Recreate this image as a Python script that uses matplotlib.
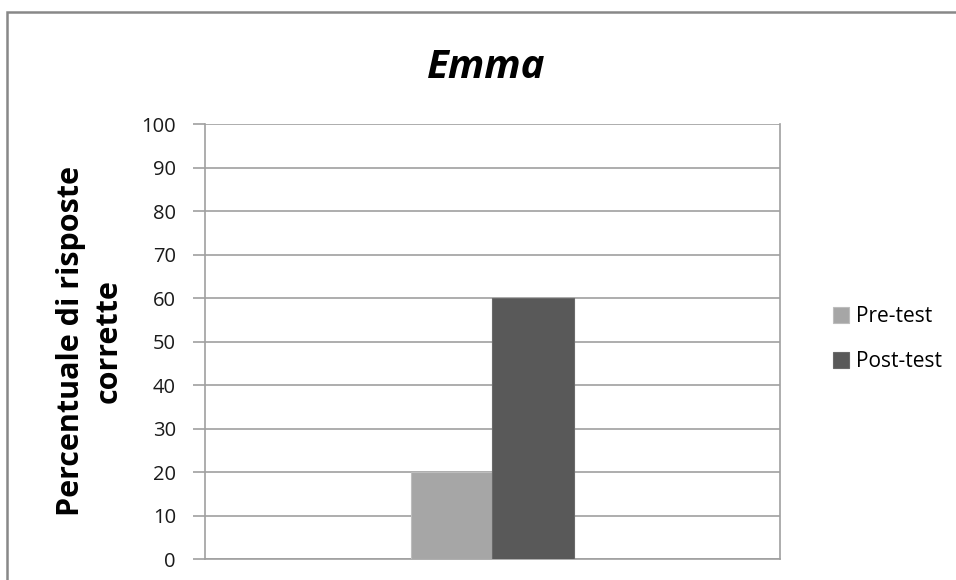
import matplotlib.pyplot as plt
from matplotlib.patches import Rectangle

plt.rcParams['font.family'] = ['Open Sans', 'DejaVu Sans']

# data
categories = ['']
series_names = ['Pre-test', 'Post-test']
pre_test = [20]
post_test = [60]
yticks = [0, 10, 20, 30, 40, 50, 60, 70, 80, 90, 100]

fig = plt.figure(figsize=(9.56, 5.8), dpi=100)
ax = fig.add_axes([0.2144, 0.0362, 0.6015, 0.75])

w = 0.141
x = list(range(len(categories)))
ax.bar([v - w / 2 for v in x], pre_test, width=w, color='#a6a6a6',
       edgecolor='#bdbdbd', linewidth=0.8, label=series_names[0], zorder=3)
ax.bar([v + w / 2 for v in x], post_test, width=w, color='#595959',
       edgecolor='#6a6a6a', linewidth=0.8, label=series_names[1], zorder=3)

ax.set_xlim(-0.5, 0.5)
ax.set_ylim(0, 100)
ax.set_yticks(yticks)
ax.set_xticks([])
ax.grid(axis='y', color='#a0a0a0', linewidth=1.2, zorder=0)
ax.tick_params(axis='y', length=9, width=1.2, color='#a0a0a0',
               labelsize=14.5, labelcolor='#1a1a1a', pad=12)
for side in ['left', 'bottom', 'right']:
    ax.spines[side].set_color('#a0a0a0')
    ax.spines[side].set_linewidth(1.2)
ax.spines['top'].set_visible(False)

fig.text(0.509, 0.884, 'Emma', ha='center', va='center', fontsize=29,
         fontweight='bold', style='italic')
fig.text(0.094, 0.412, 'Percentuale di risposte\ncorrette', ha='center',
         va='center', rotation=90, fontsize=22, fontweight='bold',
         linespacing=1.3)

leg = fig.legend(loc='center left', bbox_to_anchor=(0.852, 0.415),
                 frameon=False, fontsize=15, handlelength=0.75,
                 handleheight=0.75, handletextpad=0.35, labelspacing=1.15)

# outer chart border
fig.add_artist(Rectangle((7 / 956, -0.1), 1.1, 1 - 12 / 580 + 0.1,
                         transform=fig.transFigure, fill=False,
                         edgecolor='#888888', linewidth=1.8))

fig.savefig('out.png', dpi=100)
